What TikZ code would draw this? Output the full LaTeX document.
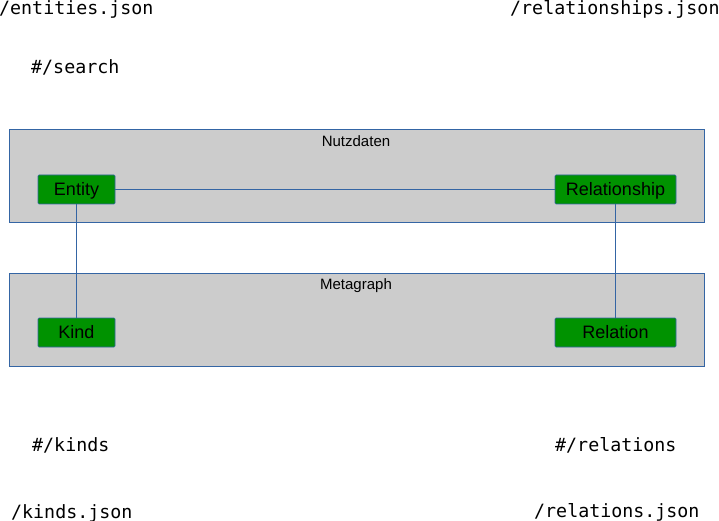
\documentclass[tikz,border=0pt]{standalone}
\usepackage{fontspec}
\setmainfont{Liberation Sans}
\newfontfamily\monofont{DejaVu Sans Mono}
\definecolor{edgeblue}{HTML}{3465A4}
\definecolor{boxgray}{HTML}{CCCCCC}
\definecolor{nodegreen}{HTML}{009200}
\begin{document}
\begin{tikzpicture}[x=1pt,y=-1pt,
  group/.style={draw=edgeblue,fill=boxgray,line width=0.8pt},
  item/.style={draw=edgeblue,fill=nodegreen,rounded corners=1pt,line width=0.6pt,
    minimum height=29pt,inner sep=0pt,font=\fontsize{18}{20}\selectfont,text=black,
    text height=14.5pt,text depth=3pt},
  grouptitle/.style={font=\fontsize{15}{17}\selectfont,inner sep=0pt},
  path/.style={font=\monofont\fontsize{18.3}{21}\selectfont,inner sep=0pt,anchor=base west},
  link/.style={draw=edgeblue,line width=0.7pt}]
\useasboundingbox (0,0) rectangle (719,521);
\fill[white] (0,0) rectangle (719,521);
% groups
\draw[group] (9.5,129.5) rectangle (704.5,222.5);
\node[grouptitle] (tNutz) at (356,141.5) {Nutzdaten};
\draw[group] (9.5,273.5) rectangle (704.5,366.5);
\node[grouptitle] (tMeta) at (356,285.5) {Metagraph};
% items
\node[item,minimum width=77pt] (entity) at (76.5,189.5) {Entity};
\node[item,minimum width=121pt] (relship) at (615.5,189.5) {Relationship};
\node[item,minimum width=77pt] (kind) at (76.5,332.5) {Kind};
\node[item,minimum width=121pt] (relation) at (615.5,332.5) {Relation};
% links
\draw[link] (entity) -- (relship);
\draw[link] (entity) -- (kind);
\draw[link] (relship) -- (relation);
% path labels
\node[path] (pEnt) at (-1,15) {/entities.json};
\node[path] (pSearch) at (31,74) {\#/search};
\node[path] (pRel) at (510,15) {/relationships.json};
\node[path] (pKinds) at (32,451) {\#/kinds};
\node[path] (pKindsJ) at (11,518) {/kinds.json};
\node[path] (pRelations) at (555,451) {\#/relations};
\node[path] (pRelationsJ) at (534,517) {/relations.json};
\end{tikzpicture}
\end{document}
